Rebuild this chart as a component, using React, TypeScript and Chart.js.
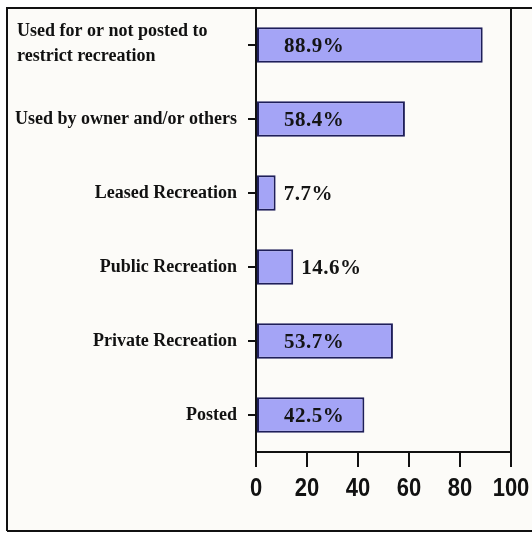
import React, { useEffect, useRef } from "react";
import { Chart, registerables } from "chart.js";

Chart.register(...registerables);

const categories: (string | string[])[] = [
  ["Used for or not posted to", "restrict recreation"],
  "Used by owner and/or others",
  "Leased Recreation",
  "Public Recreation",
  "Private Recreation",
  "Posted",
];
const values = [88.9, 58.4, 7.7, 14.6, 53.7, 42.5];
const valueLabels = ["88.9%", "58.4%", "7.7%", "14.6%", "53.7%", "42.5%"];
const xTicks = [0, 20, 40, 60, 80, 100];

const LABEL_FONT = "bold 18px 'Liberation Serif', 'Times New Roman', serif";
const VALUE_FONT = "bold 21px 'Liberation Serif', 'Times New Roman', serif";
const TICK_FONT = "bold 25px 'Liberation Sans', Arial, sans-serif";

const decorPlugin = {
  id: "decor",
  beforeDraw(chart: any) {
    const { ctx, width, height } = chart;
    ctx.save();
    ctx.fillStyle = "#ffffff";
    ctx.fillRect(0, 0, width, height);
    ctx.fillStyle = "#fcfbf8";
    ctx.fillRect(7, 8, width, height - 10);
    ctx.restore();
  },
  afterDraw(chart: any) {
    const { ctx, chartArea } = chart;
    const yScale = chart.scales.y;
    const xScale = chart.scales.x;
    ctx.save();
    // frame
    ctx.strokeStyle = "#111";
    ctx.lineWidth = 2;
    ctx.beginPath();
    ctx.moveTo(7, 531);
    ctx.lineTo(7, 8);
    ctx.lineTo(chart.width + 5, 8);
    ctx.moveTo(7, 531);
    ctx.lineTo(chart.width + 5, 531);
    ctx.stroke();
    // right border of plot
    ctx.beginPath();
    ctx.moveTo(chartArea.right, chartArea.top);
    ctx.lineTo(chartArea.right, chartArea.bottom);
    ctx.stroke();

    // category labels
    ctx.fillStyle = "#111";
    ctx.font = LABEL_FONT;
    ctx.textBaseline = "middle";
    categories.forEach((lab, i) => {
      const y = yScale.getPixelForValue(i);
      if (Array.isArray(lab)) {
        ctx.textAlign = "left";
        const lh = 25;
        const y0 = y - ((lab.length - 1) * lh) / 2 - 1;
        lab.forEach((line, k) => ctx.fillText(line, 17, y0 + k * lh));
      } else {
        ctx.textAlign = "right";
        ctx.fillText(lab, chartArea.left - 19, y);
      }
    });

    // value labels
    ctx.font = VALUE_FONT;
    (ctx as any).letterSpacing = "0.5px";
    ctx.textAlign = "left";
    ctx.fillStyle = "#141414";
    values.forEach((v, i) => {
      const y = yScale.getPixelForValue(i) + 2;
      const end = xScale.getPixelForValue(v);
      const x = v < 20 ? end + 8 : xScale.getPixelForValue(0) + 28;
      ctx.fillText(valueLabels[i], x, y);
    });
    (ctx as any).letterSpacing = "0px";

    // x tick labels (condensed)
    ctx.font = TICK_FONT;
    ctx.textAlign = "center";
    ctx.textBaseline = "middle";
    ctx.fillStyle = "#111";
    xTicks.forEach((t) => {
      const x = xScale.getPixelForValue(t);
      ctx.save();
      ctx.translate(x, chartArea.bottom + 37);
      ctx.scale(0.88, 1);
      ctx.fillText(String(t), 0, 0);
      ctx.restore();
    });
    ctx.restore();
  },
};

export default function App() {
  const ref = useRef<HTMLCanvasElement | null>(null);
  useEffect(() => {
    if (!ref.current) return;
    const chart = new Chart(ref.current, {
      type: "bar",
      data: {
        labels: categories.map((c) => (Array.isArray(c) ? c.join(" ") : c)),
        datasets: [
          {
            data: values,
            backgroundColor: "#a4a4f6",
            borderColor: "#1e1e5a",
            borderWidth: 2,
            borderSkipped: false,
            barPercentage: 0.48,
            categoryPercentage: 1,
          },
        ],
      },
      plugins: [decorPlugin],
      options: {
        indexAxis: "y",
        animation: false,
        responsive: false,
        maintainAspectRatio: false,
        layout: { padding: { top: 8, right: 21, bottom: 0, left: 0 } },
        plugins: {
          legend: { display: false },
          tooltip: { enabled: false },
        },
        scales: {
          x: {
            min: 0,
            max: 100,
            afterBuildTicks: (scale: any) => {
              scale.ticks = xTicks.map((v) => ({ value: v }));
            },
            afterFit: (scale: any) => {
              scale.height = 81;
            },
            ticks: { display: false },
            grid: {
              drawOnChartArea: false,
              drawTicks: true,
              tickLength: 15,
              color: "#111",
              lineWidth: 2,
            },
            border: { display: true, color: "#111", width: 2 },
          },
          y: {
            afterFit: (scale: any) => {
              scale.width = 256;
            },
            ticks: { display: false },
            grid: {
              offset: false,
              drawOnChartArea: false,
              drawTicks: true,
              tickLength: 8,
              color: "#111",
              lineWidth: 2,
            },
            border: { display: true, color: "#111", width: 2 },
          },
        },
      } as any,
    });
    return () => chart.destroy();
  }, []);
  return (
    <div style={{ position: "fixed", left: 0, top: 0, width: 532, height: 533 }}>
      <canvas ref={ref} width={532} height={533} style={{ display: "block" }} />
    </div>
  );
}
